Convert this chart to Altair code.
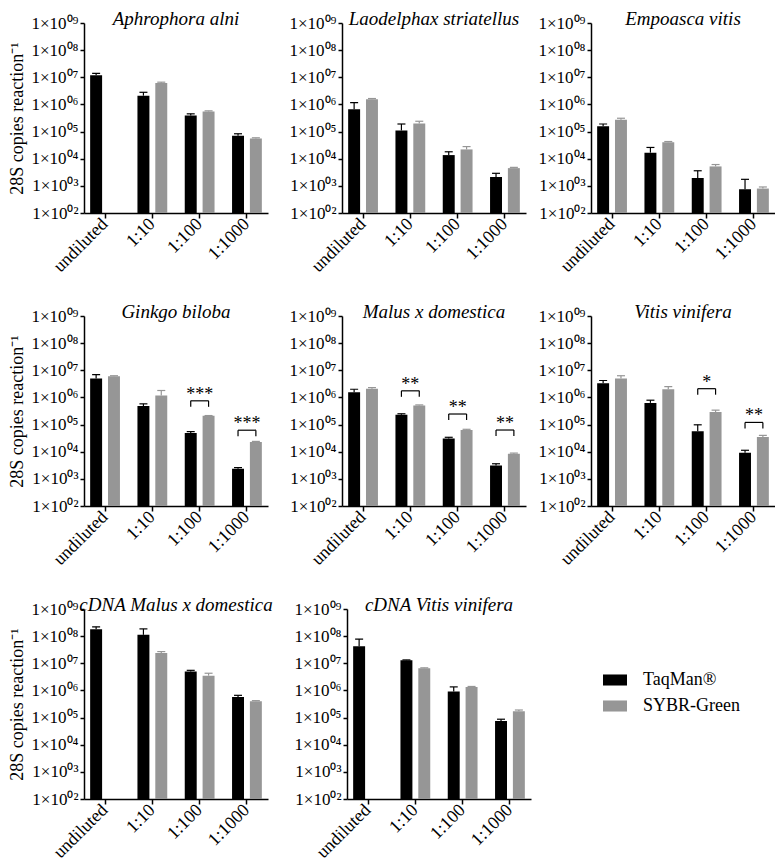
import altair as alt
import pandas as pd

dilutions = ["undiluted", "1:10", "1:100", "1:1000"]
series = ["TaqMan®", "SYBR-Green"]
colors = ["#000000", "#969696"]
species = ["Aphrophora alni", "Laodelphax striatellus", "Empoasca vitis",
           "Ginkgo biloba", "Malus x domestica", "Vitis vinifera",
           "cDNA Malus x domestica", "cDNA Vitis vinifera"]
y_ticks = [1e2, 1e3, 1e4, 1e5, 1e6, 1e7, 1e8, 1e9]
y_labels = ["1×10⁰²", "1×10⁰³", "1×10⁰⁴", "1×10⁰⁵", "1×10⁰⁶", "1×10⁰⁷", "1×10⁰⁸", "1×10⁰⁹"]
y_title = "28S copies reaction⁻¹"

taqman_mean = {
    "Aphrophora alni": [1.2e7, 2.1e6, 3.9e5, 7.0e4],
    "Laodelphax striatellus": [6.6e5, 1.1e5, 1.36e4, 2.1e3],
    "Empoasca vitis": [1.58e5, 1.67e4, 1.95e3, 750],
    "Ginkgo biloba": [5.0e6, 4.8e5, 4.9e4, 2.35e3],
    "Malus x domestica": [1.54e6, 2.3e5, 3.1e4, 3.1e3],
    "Vitis vinifera": [3.3e6, 6.3e5, 5.7e4, 9.1e3],
    "cDNA Malus x domestica": [1.8e8, 1.12e8, 5.0e6, 5.7e5],
    "cDNA Vitis vinifera": [4.2e7, 1.29e7, 9.2e5, 7.4e4],
}
taqman_top = {
    "Aphrophora alni": [1.4e7, 2.8e6, 4.5e5, 8.3e4],
    "Laodelphax striatellus": [1.17e6, 1.9e5, 1.8e4, 2.9e3],
    "Empoasca vitis": [1.9e5, 2.6e4, 3.6e3, 1.74e3],
    "Ginkgo biloba": [6.9e6, 5.8e5, 5.5e4, 2.6e3],
    "Malus x domestica": [2.0e6, 2.5e5, 3.4e4, 3.6e3],
    "Vitis vinifera": [4.2e6, 7.9e5, 9.8e4, 1.13e4],
    "cDNA Malus x domestica": [2.2e8, 1.85e8, 5.5e6, 6.6e5],
    "cDNA Vitis vinifera": [7.8e7, 1.33e7, 1.35e6, 8.7e4],
}
sybr_mean = {
    "Aphrophora alni": [None, 6.2e6, 5.5e5, 5.6e4],
    "Laodelphax striatellus": [1.55e6, 2.0e5, 2.2e4, 4.5e3],
    "Empoasca vitis": [2.75e5, 4.0e4, 5.2e3, 795],
    "Ginkgo biloba": [6.0e6, 1.18e6, 2.1e5, 2.3e4],
    "Malus x domestica": [2.1e6, 5.0e5, 6.3e4, 8.4e3],
    "Vitis vinifera": [5.0e6, 2.0e6, 2.9e5, 3.5e4],
    "cDNA Malus x domestica": [None, 2.4e7, 3.5e6, 4.0e5],
    "cDNA Vitis vinifera": [None, 6.6e6, 1.35e6, 1.7e5],
}
sybr_top = {
    "Aphrophora alni": [None, 6.6e6, 5.8e5, 5.9e4],
    "Laodelphax striatellus": [1.65e6, 2.4e5, 2.8e4, 4.8e3],
    "Empoasca vitis": [3.1e5, 4.3e4, 6.1e3, 910],
    "Ginkgo biloba": [6.3e6, 1.8e6, 2.15e5, 2.4e4],
    "Malus x domestica": [2.3e6, 5.3e5, 6.7e4, 8.9e3],
    "Vitis vinifera": [6.3e6, 2.5e6, 3.4e5, 4.0e4],
    "cDNA Malus x domestica": [None, 2.7e7, 4.3e6, 4.2e5],
    "cDNA Vitis vinifera": [None, 6.8e6, 1.4e6, 1.9e5],
}

sig_species = ["Ginkgo biloba", "Ginkgo biloba", "Malus x domestica", "Malus x domestica",
               "Malus x domestica", "Vitis vinifera", "Vitis vinifera"]
sig_dilution = ["1:100", "1:1000", "1:10", "1:100", "1:1000", "1:100", "1:1000"]
sig_stars = ["***", "***", "**", "**", "**", "*", "**"]
sig_level = [7.5e5, 6.2e4, 1.75e6, 2.45e5, 6.3e4, 2.1e6, 1.2e5]

rows = []
for sp in species:
    for i, dl in enumerate(dilutions):
        for s, m, t in ((series[0], taqman_mean[sp][i], taqman_top[sp][i]),
                        (series[1], sybr_mean[sp][i], sybr_top[sp][i])):
            if m is None:
                continue
            rows.append(dict(species=sp, dilution=dl, series=s, mean=m, top=t))
df = pd.DataFrame(rows)

sig = pd.DataFrame(dict(species=sig_species, dilution=sig_dilution, stars=sig_stars, level=sig_level))
sig_ends = pd.concat([sig.assign(series=s) for s in series], ignore_index=True)

FONT = "Liberation Serif"
label_expr = "[" + ",".join(f"'{l}'" for l in y_labels) + "][round(log(datum.value)/LN10) - 2]"
cscale = alt.Scale(domain=series, range=colors)

legend = alt.Legend(title=" ", titleFontSize=10, titlePadding=49, orient="right", offset=72,
                    padding=0, symbolType="M-1,-0.46H1V0.46H-1Z", symbolSize=576,
                    symbolStrokeWidth=0, symbolOpacity=1, labelFont=FONT, labelFontSize=18,
                    labelOffset=16, rowPadding=5, labelColor="black")


def panel(name, show_title, with_legend=False):
    d = df[df.species == name]
    color_bar = alt.Color("series:N", scale=cscale, legend=legend if with_legend else None)
    color = alt.Color("series:N", scale=cscale, legend=None)
    x = alt.X("dilution:N", sort=dilutions,
              scale=alt.Scale(domain=dilutions, paddingInner=0.37, paddingOuter=0.13),
              axis=alt.Axis(title=None, labelAngle=-45, labelAlign="right", labelBaseline="middle",
                            labelPadding=3, tickSize=5, labelFont=FONT, labelFontSize=18,
                            labelColor="black"))
    xo = alt.XOffset("series:N", sort=series,
                     scale=alt.Scale(domain=series, paddingInner=0.33, paddingOuter=0))
    yscale = alt.Scale(type="log", domain=[1e2, 1e9], nice=False)
    y = alt.Y("mean:Q", scale=yscale, stack=None,
              axis=alt.Axis(values=y_ticks, labelExpr=label_expr, tickSize=4,
                            labelFont=FONT, labelFontSize=17, labelColor="black", labelPadding=2,
                            title=y_title if show_title else None, titlePadding=4,
                            titleFont=FONT, titleFontSize=18, titleFontWeight="normal",
                            titleColor="black"))
    base = alt.Chart(d)
    bars = base.mark_bar(opacity=1).encode(x=x, xOffset=xo, y=y, color=color_bar)
    err = base.mark_rule(strokeWidth=1.2, opacity=1).encode(
        x=x, xOffset=xo, y=alt.Y("mean:Q", stack=None), y2="top:Q", color=color)
    caps = base.mark_tick(orient="horizontal", size=8, thickness=1.2, opacity=1).encode(
        x=x, xOffset=xo, y=alt.Y("top:Q", stack=None), color=color)
    layers = [bars, err, caps]
    s = sig[sig.species == name]
    if len(s):
        se = sig_ends[sig_ends.species == name]
        hbar = alt.Chart(s).mark_tick(orient="horizontal", size=18, thickness=1.2, color="black",
                                      opacity=1).encode(x=x, y=alt.Y("level:Q"))
        ends = alt.Chart(se).mark_rule(strokeWidth=1.2, color="black", y2Offset=6).encode(
            x=x, xOffset=xo, y=alt.Y("level:Q"), y2="level:Q")
        stars = alt.Chart(s).mark_text(font=FONT, fontSize=18, baseline="alphabetic", dy=-1,
                                       color="black").encode(x=x, y=alt.Y("level:Q"), text="stars:N")
        layers += [hbar, ends, stars]
    return alt.layer(*layers).properties(
        width=184, height=190,
        title=alt.TitleParams(name, font=FONT, fontStyle="italic", fontSize=19, fontWeight="normal",
                              offset=-15, anchor="middle", color="black"))


row1 = alt.hconcat(panel(species[0], True),
                   alt.hconcat(panel(species[1], False), panel(species[2], False), spacing=11),
                   spacing=20)
row2 = alt.hconcat(panel(species[3], True),
                   alt.hconcat(panel(species[4], False), panel(species[5], False), spacing=11),
                   spacing=20)
row3 = alt.hconcat(panel(species[6], True), panel(species[7], False, with_legend=True),
                   spacing=20).resolve_legend(color="independent")

chart = alt.vconcat(row1, row2, row3, spacing=27).properties(
    padding={"top": 2, "left": 0, "right": 0, "bottom": 0}).configure_view(
    stroke=None).configure_axis(
    domainColor="black", domainWidth=1.5, tickColor="black", tickWidth=1.5, grid=False)

chart.save("out.html", embed_options={"renderer": "svg", "actions": False})
